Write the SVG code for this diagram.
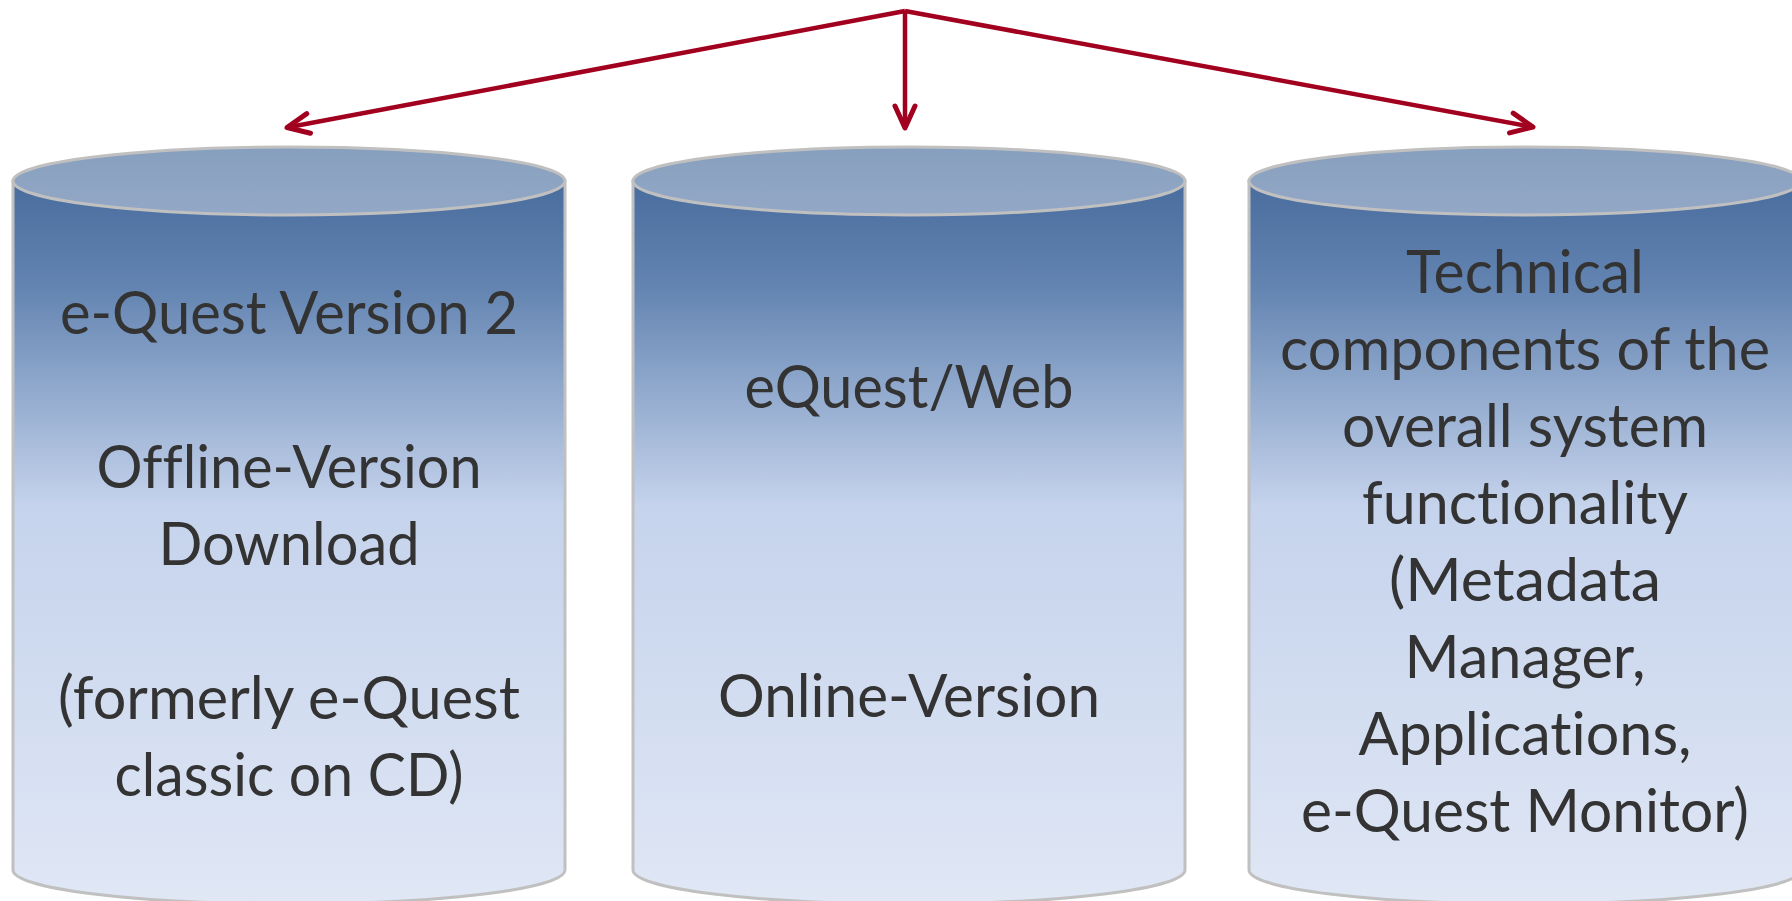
<svg xmlns="http://www.w3.org/2000/svg" width="1792" height="901" viewBox="0 0 1792 901">
<defs>
<linearGradient id="body" x1="0" y1="0" x2="0" y2="1">
<stop offset="0" stop-color="#486c9d"/>
<stop offset="0.15" stop-color="#6485b2"/>
<stop offset="0.45" stop-color="#c5d3ec"/>
<stop offset="1" stop-color="#e0e7f5"/>
</linearGradient>
<linearGradient id="lid" x1="0" y1="0" x2="0" y2="1">
<stop offset="0" stop-color="#879fbe"/>
<stop offset="1" stop-color="#93a8c6"/>
</linearGradient>
<marker id="arr" markerUnits="userSpaceOnUse" markerWidth="40" markerHeight="40" viewBox="-30 -20 40 40" refX="0" refY="0" orient="auto">
<path d="M-22,-10 L0,0 L-22,10" fill="none" stroke="#a1001f" stroke-width="5" stroke-linecap="round" stroke-linejoin="round"/>
</marker>
</defs>
<style>
.body{fill:url(#body);stroke:#c0c0c0;stroke-width:3}
.lid{fill:url(#lid);stroke:#c0c0c0;stroke-width:3}
.t{font-family:Lato,"Open Sans","Liberation Sans",sans-serif;font-size:60px;fill:#333333;text-anchor:middle;font-variant-ligatures:none}
.c{fill:none;stroke:#a1001f;stroke-width:4.5;marker-end:url(#arr)}
</style>
<g id="connectors">
<path class="c" d="M905,11 L287,127.5"/>
<path class="c" d="M905,11 L905,128"/>
<path class="c" d="M905,11 L1533,127"/>
</g>
<g id="node-offline">
<path class="body" d="M13,181 L13,870 A276,34 0 0 0 565,870 L565,181 Z"/>
<ellipse class="lid" cx="289" cy="181" rx="276" ry="34"/>
<text class="t" x="289" y="334" textLength="458" lengthAdjust="spacingAndGlyphs">e-Quest Version 2</text>
<text class="t" x="289" y="488" textLength="385" lengthAdjust="spacingAndGlyphs">Offline-Version</text>
<text class="t" x="289" y="565" textLength="261" lengthAdjust="spacingAndGlyphs">Download</text>
<text class="t" x="289" y="719" textLength="462" lengthAdjust="spacingAndGlyphs">(formerly e-Quest</text>
<text class="t" x="289" y="796" textLength="349" lengthAdjust="spacingAndGlyphs">classic on CD)</text>
</g>
<g id="node-online">
<path class="body" d="M633,181 L633,870 A276,34 0 0 0 1185,870 L1185,181 Z"/>
<ellipse class="lid" cx="909" cy="181" rx="276" ry="34"/>
<text class="t" x="909" y="408" textLength="329" lengthAdjust="spacingAndGlyphs">eQuest/Web</text>
<text class="t" x="909" y="717" textLength="382" lengthAdjust="spacingAndGlyphs">Online-Version</text>
</g>
<g id="node-technical">
<path class="body" d="M1249,181 L1249,870 A276,34 0 0 0 1801,870 L1801,181 Z"/>
<ellipse class="lid" cx="1525" cy="181" rx="276" ry="34"/>
<text class="t" x="1525" y="293" textLength="238" lengthAdjust="spacingAndGlyphs">Technical</text>
<text class="t" x="1525" y="370" textLength="490" lengthAdjust="spacingAndGlyphs">components of the</text>
<text class="t" x="1525" y="447" textLength="366" lengthAdjust="spacingAndGlyphs">overall system</text>
<text class="t" x="1525" y="524" textLength="326" lengthAdjust="spacingAndGlyphs">functionality</text>
<text class="t" x="1525" y="601" textLength="272" lengthAdjust="spacingAndGlyphs">(Metadata</text>
<text class="t" x="1525" y="678" textLength="241" lengthAdjust="spacingAndGlyphs">Manager,</text>
<text class="t" x="1525" y="755" textLength="333" lengthAdjust="spacingAndGlyphs">Applications,</text>
<text class="t" x="1525" y="832" textLength="448" lengthAdjust="spacingAndGlyphs">e-Quest Monitor)</text>
</g>
</svg>
